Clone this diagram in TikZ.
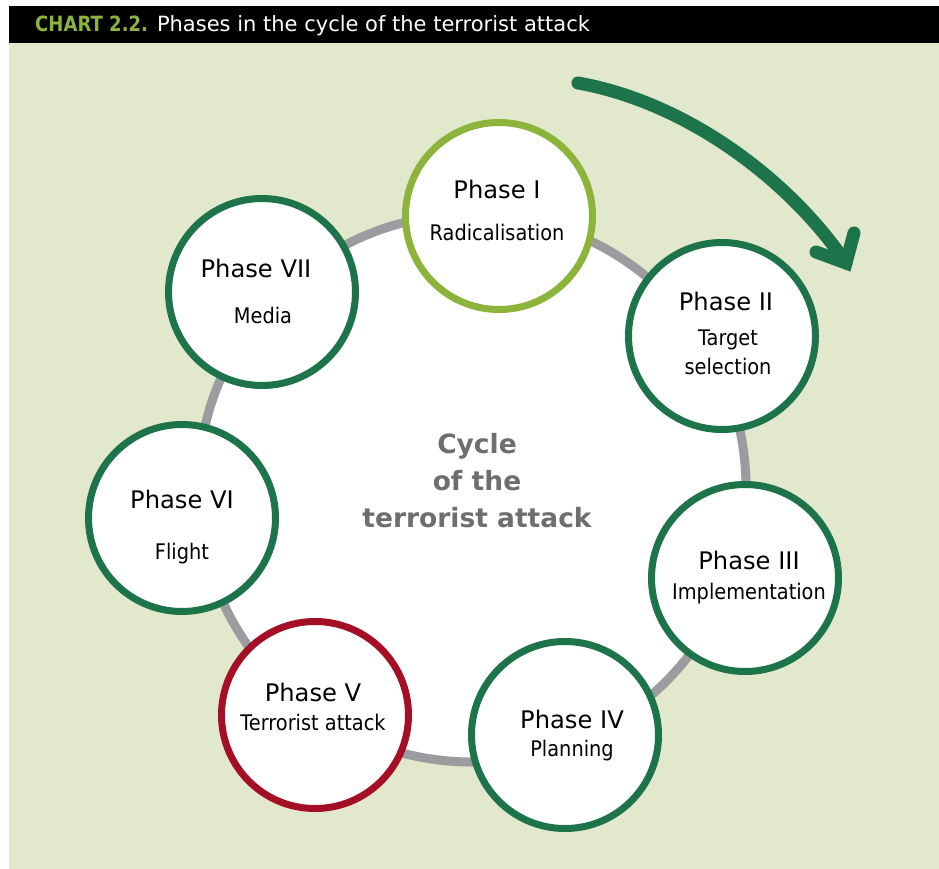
\documentclass[tikz,border=0pt]{standalone}
\usepackage{fontspec}
\setmainfont{DejaVu Sans}
\newfontfamily\condfont[FakeStretch=0.9]{DejaVu Sans}
\newfontfamily\headbold[FakeStretch=0.86]{DejaVu Sans Bold}
\definecolor{bggreen}{HTML}{E2E8CC}
\definecolor{darkgreen}{HTML}{1D734A}
\definecolor{lightgreen}{HTML}{8CB33A}
\definecolor{phasered}{HTML}{A50F25}
\definecolor{ringgray}{HTML}{9B9CA0}
\definecolor{textgray}{HTML}{6E6E6E}
\tikzset{
  phasecircle/.style={circle, fill=white, line width=7pt, minimum size=187pt, inner sep=0pt},
  ringnode/.style={circle, fill=white, draw=ringgray, line width=9pt, minimum size=548pt, inner sep=0pt},
  phasetitle/.style={anchor=base, inner sep=0pt, font=\fontsize{24.2}{27}\selectfont},
  phasesub/.style={anchor=base, inner sep=0pt, font=\condfont\fontsize{21.5}{24}\selectfont},
  centertext/.style={anchor=base, inner sep=0pt, text=textgray, font=\bfseries\fontsize{26.5}{30}\selectfont},
}
\begin{document}
\begin{tikzpicture}[x=1pt,y=-1pt]
\useasboundingbox (0,0) rectangle (939,869);
\fill[white] (0,0) rectangle (939,869);
\fill[bggreen] (9,43) rectangle (939,869);
\fill[black] (9,6) rectangle (939,43);
\node[anchor=base west, inner sep=0pt, text=white, font=\fontsize{21}{24}\selectfont] (header) at (35,32)
  {\textcolor{lightgreen}{\headbold CHART 2.2.} Phases in the cycle of the terrorist attack};

\node[ringnode] (ring) at (472,488) {};

\node[phasecircle, draw=lightgreen] (p1) at (499,216) {};
\node[phasecircle, draw=darkgreen] (p2) at (722,336) {};
\node[phasecircle, draw=darkgreen] (p3) at (745,578) {};
\node[phasecircle, draw=darkgreen] (p4) at (565,735) {};
\node[phasecircle, draw=phasered] (p5) at (315,715) {};
\node[phasecircle, draw=darkgreen] (p6) at (182,518) {};
\node[phasecircle, draw=darkgreen] (p7) at (262,292) {};

\node[phasetitle] (t1) at (497,199) {Phase I};
\node[phasesub] (s1) at (497,240.5) {Radicalisation};
\node[phasetitle] (t2) at (726,310) {Phase II};
\node[phasesub] (s2a) at (728,345.5) {Target};
\node[phasesub] (s2b) at (728,374.5) {selection};
\node[phasetitle] (t3) at (749,569) {Phase III};
\node[phasesub] (s3) at (749,599.5) {Implementation};
\node[phasetitle] (t4) at (572,728) {Phase IV};
\node[phasesub] (s4) at (572,756.5) {Planning};
\node[phasetitle] (t5) at (313,701) {Phase V};
\node[phasesub] (s5) at (313,730.5) {Terrorist attack};
\node[phasetitle] (t6) at (182,508) {Phase VI};
\node[phasesub] (s6) at (182,559.5) {Flight};
\node[phasetitle] (t7) at (256,277) {Phase VII};
\node[phasesub] (s7) at (263,323.5) {Media};

\node[centertext] (c1) at (477,453) {Cycle};
\node[centertext] (c2) at (477,490) {of the};
\node[centertext] (c3) at (477,527) {terrorist attack};

\coordinate (arrowstart) at (578,83);
\coordinate (arrowtip) at (846,263);
\coordinate (barbleft) at (816,252);
\coordinate (barbright) at (854,233);
\draw[darkgreen, line width=13pt, line cap=round] (arrowstart) .. controls (690,103) and (792,183) .. (arrowtip);
\draw[darkgreen, line width=13pt, line cap=round, line join=miter] (barbleft) -- (arrowtip) -- (barbright);
\end{tikzpicture}
\end{document}
